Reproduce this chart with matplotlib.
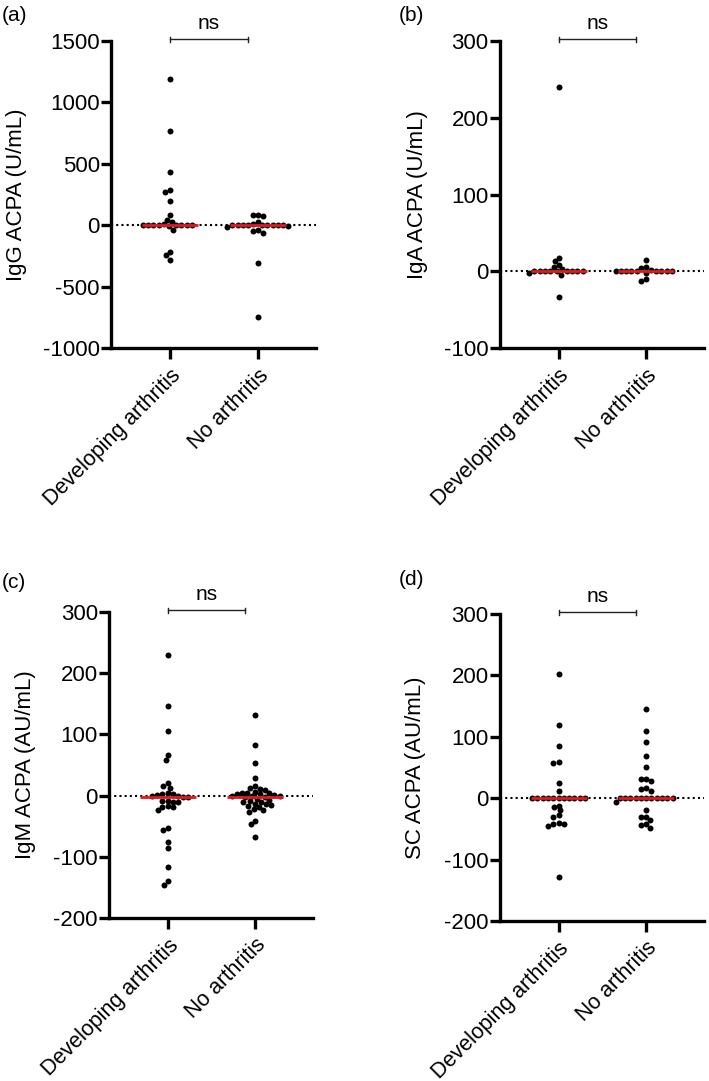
import numpy as np
import matplotlib
matplotlib.use('Agg')
import matplotlib.pyplot as plt

plt.rcParams['font.family'] = ['Liberation Sans', 'DejaVu Sans']
plt.rcParams['axes.unicode_minus'] = False

groups = ['Developing arthritis', 'No arthritis']

# values
igg_dev = [1195, 765, 435, 290, 270, 195, 80, 45, 30, 10, 5,
           0, 0, 0, 0, 0, 0, 0, -5, -35, -220, -245, -285]
igg_no = [85, 80, 72, 30, 10, 5, 0, 0, 0, 0, 0, 0, 0, 0,
          -5, -10, -40, -50, -60, -310, -750]

iga_dev = [240, 18, 13, 8, 5, 3, 0, 0, 0, 0, 0, 0, 0, 0, 0, -2, -5, -34]
iga_no = [15, 5, 4, 2, 0, 0, 0, 0, 0, 0, 0, 0, 0, -2, -10, -12]

igm_dev = [230, 146, 105, 67, 59, 21, 16, 13, 4, 3, 2, 1, 0, -1, -2, -3, -8,
           -9, -10, -10, -17, -18, -19, -23, -53, -57, -76, -85, -116, -140, -146]
igm_no = [132, 83, 54, 29, 15, 12, 11, 9, 6, 5, 5, 4, 3, 2, 1, 0, 0, -1, -2,
          -3, -5, -7, -9, -10, -11, -13, -14, -16, -17, -19, -22, -24, -27,
          -42, -46, -68]

sc_dev = [203, 120, 85, 59, 57, 24, 12, 0, 0, 0, 0, 0, 0, 0, 0, 0, 0, 0,
          -12, -15, -20, -28, -30, -40, -42, -42, -45, -128]
sc_no = [145, 110, 92, 68, 51, 32, 31, 28, 16, 15, 12, 0, 0, 0, 0, 0, 0, 0,
         0, 0, 0, 0, -6, -20, -30, -31, -36, -42, -43, -48]

panels = [
    ('(a)', 'IgG ACPA (U/mL)', igg_dev, igg_no, (-1000, 1500), [-1000, -500, 0, 500, 1000, 1500]),
    ('(b)', 'IgA ACPA (U/mL)', iga_dev, iga_no, (-100, 300), [-100, 0, 100, 200, 300]),
    ('(c)', 'IgM ACPA (AU/mL)', igm_dev, igm_no, (-200, 300), [-200, -100, 0, 100, 200, 300]),
    ('(d)', 'SC ACPA (AU/mL)', sc_dev, sc_no, (-200, 300), [-200, -100, 0, 100, 200, 300]),
]

# axes rectangles in figure fractions, and panel letter / ylabel placement
rects = [[0.1566, 0.678, 0.289, 0.284], [0.705, 0.678, 0.288, 0.284],
         [0.1537, 0.1508, 0.288, 0.283], [0.705, 0.148, 0.288, 0.284]]
letter_pos = [(0.003, 0.986), (0.563, 0.986), (0.003, 0.461), (0.563, 0.464)]
ylab_x = [-0.41, -0.353, -0.358, -0.363]

MS = 4.3
RED = '#e3191f'


def swarm(ax, xc, vals, d):
    # simple beeswarm in pixel space, returns x positions in data units
    vals = np.asarray(vals, float)
    pix = ax.transData.transform(np.column_stack([np.full(len(vals), xc), vals]))
    x0 = pix[0, 0]
    px_per_unit = ax.transData.transform([[xc + 1, 0]])[0, 0] - x0
    ys = pix[:, 1]
    order = np.argsort(-vals, kind='stable')
    placed = []
    offs = np.zeros(len(vals))
    for i in order:
        intervals = []
        for (py, px) in placed:
            dy = ys[i] - py
            if abs(dy) < d:
                w = np.sqrt(d * d - dy * dy)
                intervals.append((px - w, px + w))
        cands = [0.0] + [e for iv in intervals for e in iv]
        cands.sort(key=lambda c: (abs(c), c))
        for c in cands:
            if all(not (a + 1e-6 < c < b - 1e-6) for a, b in intervals):
                offs[i] = c
                break
        placed.append((ys[i], offs[i]))
    return xc + offs / px_per_unit


fig = plt.figure(figsize=(7.09, 10.81), dpi=100)

for k, (letter, ylabel, dev, no, ylim, yticks) in enumerate(panels):
    ax = fig.add_axes(rects[k])
    ax.set_xlim(-0.67, 1.66)
    ax.set_ylim(*ylim)
    ax.set_yticks(yticks)
    ax.set_xticks([0, 1])
    ax.set_xticklabels(groups, rotation=45, ha='right', rotation_mode='anchor', fontsize=15.5)
    ax.tick_params(axis='y', labelsize=16, length=7, width=2.4, pad=1)
    ax.tick_params(axis='x', length=8, width=2.4, pad=4)
    for s in ['top', 'right']:
        ax.spines[s].set_visible(False)
    for s in ['left', 'bottom']:
        ax.spines[s].set_linewidth(2.4)

    ax.plot([0, 1], [0, 0], transform=ax.get_yaxis_transform(), color='black',
            lw=1.5, dashes=(1, 1.5), zorder=1)

    d = 4.0 * 100 / 72 * 0.95
    for xc, vals in zip([0, 1], [dev, no]):
        xs = swarm(ax, xc, vals, d)
        ax.plot(xs, vals, 'o', color='black', ms=MS, mew=0, zorder=2, clip_on=False)
        ax.hlines(np.median(vals), xc - 0.32, xc + 0.32, color=RED, lw=2, zorder=3)

    # significance bracket
    tr = ax.get_xaxis_transform()
    ax.plot([0, 0.885], [1.006, 1.006], transform=tr, color='#222222', lw=1, clip_on=False)
    for xe in [0, 0.885]:
        ax.plot([xe, xe], [0.998, 1.014], transform=tr, color='#222222', lw=1, clip_on=False)
    ax.text(0.4425, 1.058, 'ns', transform=tr, ha='center', va='center', fontsize=15)

    ax.set_ylabel(ylabel, fontsize=16)
    ax.yaxis.set_label_coords(ylab_x[k], 0.5)
    fig.text(letter_pos[k][0], letter_pos[k][1], letter, fontsize=15, va='center')

fig.savefig('out.png', dpi=100)
